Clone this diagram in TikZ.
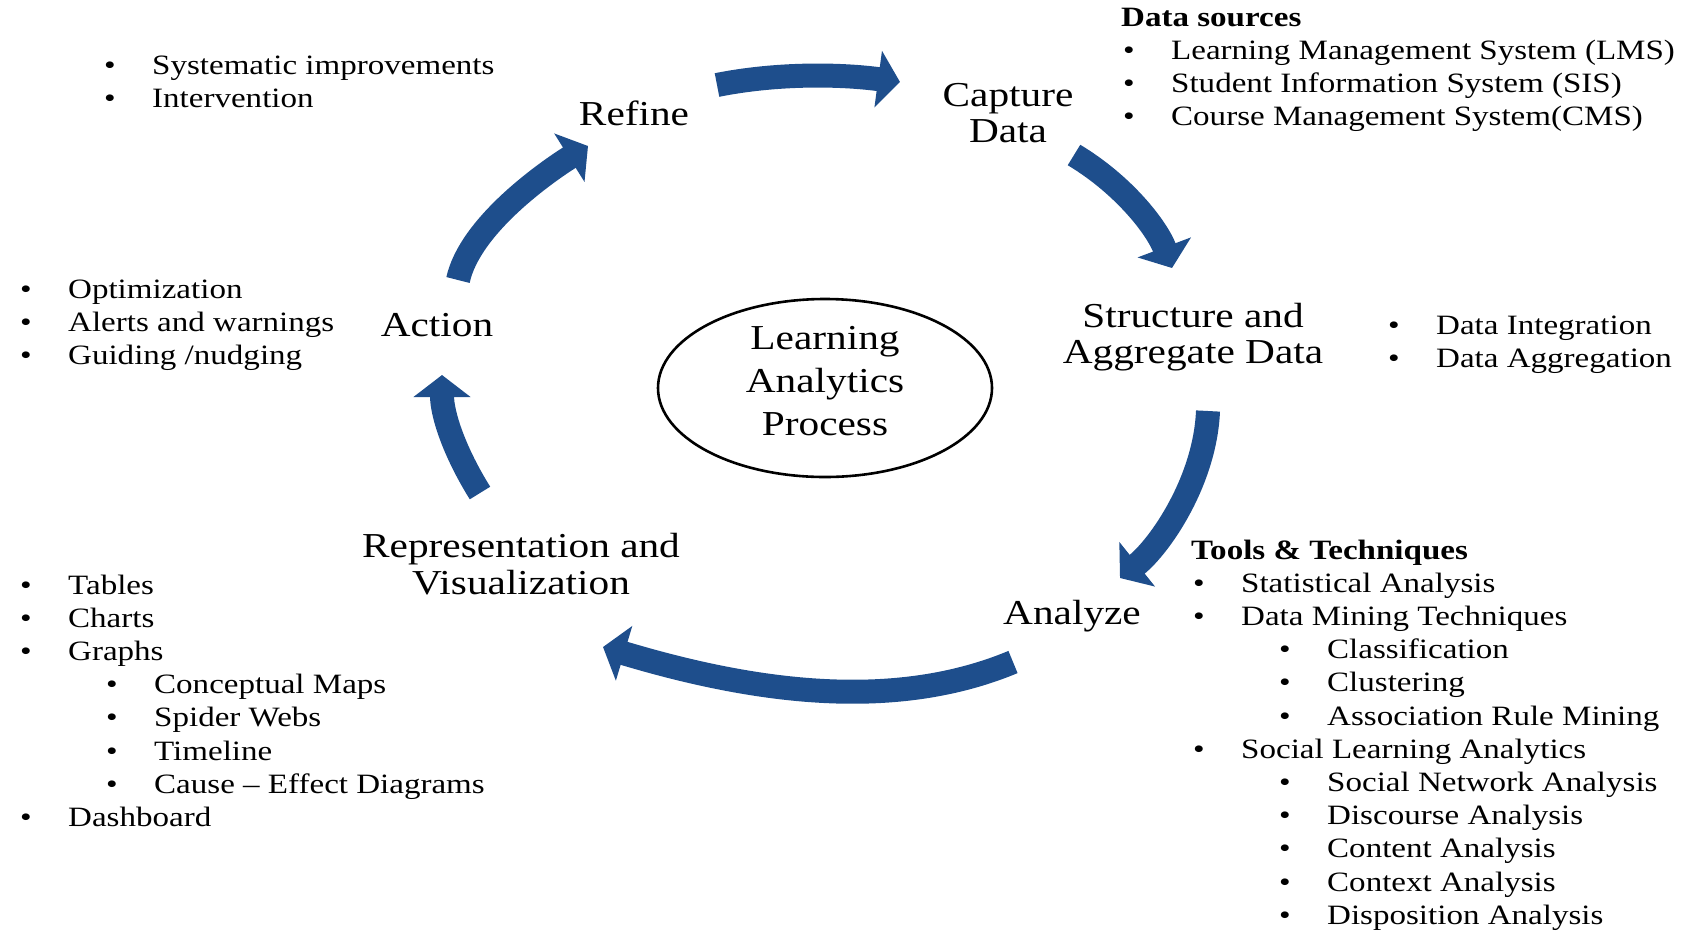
\documentclass[tikz,border=0pt]{standalone}
\usepackage{fontspec}
\setmainfont{Liberation Serif}[FakeStretch=1.18]
\usetikzlibrary{arrows.meta,shapes.geometric}
\definecolor{cycleblue}{RGB}{30,78,140}

% bullet markers for the item lists
\newcommand{\itemdot}{\makebox[50pt][l]{\hspace{2pt}\textbullet}}
\newcommand{\subitemdot}{\hspace*{86pt}\itemdot}

\begin{document}
\begin{tikzpicture}[x=1pt,y=-1pt,
  flow/.style={draw=cycleblue,line width=24pt,-{Triangle[length=22pt,width=56pt]}},
  stage/.style={font=\fontsize{35}{36.5}\selectfont,align=center,inner sep=0pt},
  itemlist/.style={font=\fontsize{28}{33.2}\selectfont,anchor=base west,inner sep=0pt},
  ring/.style={draw,line width=2.6pt,ellipse,minimum width=334pt,minimum height=178pt,inner sep=0pt},
  centre/.style={font=\fontsize{35}{43}\selectfont,align=center,inner sep=0pt}]
\useasboundingbox (0,0) rectangle (1685,930);

% central ellipse with its title
\node[ring] (lapring) at (825,388) {};
\node[centre] (lap) at (825,381) {Learning\\Analytics\\Process};

% stages of the cycle
\node[stage] (refine)  at (634,113)  {Refine};
\node[stage] (capture) at (1008,113) {Capture\\Data};
\node[stage] (struct)  at (1193,337) {Structure and\\Aggregate Data};
\node[stage] (analyze) at (1072,616) {Analyze};
\node[stage] (repr)    at (521,564)  {Representation and\\Visualization};
\node[stage] (action)  at (437,325)  {Action};

% item lists beside the stages
\node[itemlist] (refitems) at (102,74) {\begin{tabular}[t]{@{}l@{}}
  \itemdot Systematic improvements\\
  \itemdot Intervention
\end{tabular}};

\node[itemlist] (actitems) at (18,298) {\begin{tabular}[t]{@{}l@{}}
  \itemdot Optimization\\
  \itemdot Alerts and warnings\\
  \itemdot Guiding /nudging
\end{tabular}};

\node[itemlist] (srcitems) at (1121,26) {\begin{tabular}[t]{@{}l@{}}
  \textbf{Data sources}\\
  \itemdot Learning Management System (LMS)\\
  \itemdot Student Information System (SIS)\\
  \itemdot Course Management System(CMS)
\end{tabular}};

\node[itemlist] (stritems) at (1386,334) {\begin{tabular}[t]{@{}l@{}}
  \itemdot Data Integration\\
  \itemdot Data Aggregation
\end{tabular}};

\node[itemlist] (toolitems) at (1191,559) {\begin{tabular}[t]{@{}l@{}}
  \textbf{Tools \& Techniques}\\
  \itemdot Statistical Analysis\\
  \itemdot Data Mining Techniques\\
  \subitemdot Classification\\
  \subitemdot Clustering\\
  \subitemdot Association Rule Mining\\
  \itemdot Social Learning Analytics\\
  \subitemdot Social Network Analysis\\
  \subitemdot Discourse Analysis\\
  \subitemdot Content Analysis\\
  \subitemdot Context Analysis\\
  \subitemdot Disposition Analysis
\end{tabular}};

\node[itemlist] (repitems) at (18,594) {\begin{tabular}[t]{@{}l@{}}
  \itemdot Tables\\
  \itemdot Charts\\
  \itemdot Graphs\\
  \subitemdot Conceptual Maps\\
  \subitemdot Spider Webs\\
  \subitemdot Timeline\\
  \subitemdot Cause -- Effect Diagrams\\
  \itemdot Dashboard
\end{tabular}};

% ends of the curved cycle arrows
\coordinate (a1s) at (717,85);   \coordinate (a1e) at (900,82);
\coordinate (a2s) at (1074,155); \coordinate (a2e) at (1172,268);
\coordinate (a3s) at (1208,411); \coordinate (a3e) at (1120,578);
\coordinate (a4s) at (1013,662); \coordinate (a4e) at (603,647);
\coordinate (a5s) at (480,493);  \coordinate (a5e) at (442,375);
\coordinate (a6s) at (458,280);  \coordinate (a6e) at (588,146);

\draw[flow] (a1s) .. controls +(60,-12) and +(-60,-8) .. (a1e);
\draw[flow] (a2s) .. controls +(50,30) and +(-15,-40) .. (a2e);
\draw[flow] (a3s) .. controls +(-3,70) and +(40,-32) .. (a3e);
\draw[flow] (a4s) .. controls +(-120,50) and +(150,45) .. (a4e);
\draw[flow] (a5s) .. controls +(-25,-40) and +(0,40) .. (a5e);
\draw[flow] (a6s) .. controls +(12,-55) and +(-40,25) .. (a6e);
\end{tikzpicture}
\end{document}
